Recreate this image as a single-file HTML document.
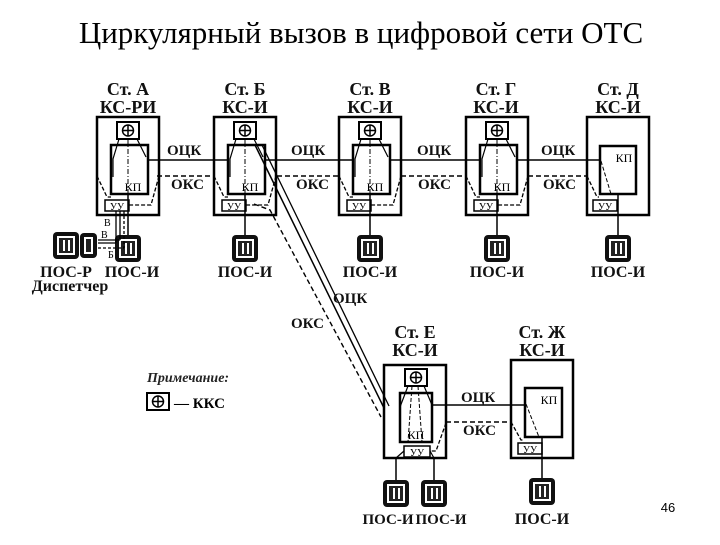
<!DOCTYPE html>
<html><head><meta charset="utf-8"><style>
body{margin:0;background:#fff;width:720px;height:540px;overflow:hidden}
svg text{font-family:"Liberation Serif",serif}
</style></head><body>
<svg width="720" height="540" viewBox="0 0 720 540" xmlns="http://www.w3.org/2000/svg">
<defs>
<g id="phone">
<rect x="-13" y="0" width="26" height="27" rx="4" fill="#111"/>
<rect x="-9" y="4" width="18" height="19" fill="#fff"/>
<rect x="-7" y="6" width="14" height="15" fill="#222"/>
<rect x="-3" y="8" width="2" height="11" fill="#fff"/>
<rect x="2" y="8" width="2" height="11" fill="#fff"/>
</g>
<g id="kks">
<rect x="0" y="0" width="22" height="17" fill="#fff" stroke="#000" stroke-width="2"/>
<circle cx="11" cy="8.5" r="5.5" fill="none" stroke="#000" stroke-width="1.5"/>
<line x1="5.5" y1="8.5" x2="16.5" y2="8.5" stroke="#000" stroke-width="1.5"/>
<line x1="11" y1="3" x2="11" y2="14" stroke="#000" stroke-width="1.5"/>
</g>
<g id="st">
<rect x="0" y="0" width="62" height="98" fill="none" stroke="#000" stroke-width="2.5"/>
<rect x="14" y="28" width="37" height="49" fill="none" stroke="#000" stroke-width="2.5"/>
<use href="#kks" x="20" y="5"/>
<polyline points="22,22 16,42 16,60" fill="none" stroke="#000" stroke-width="1.2"/>
<polyline points="40,22 49,40" fill="none" stroke="#000" stroke-width="1.2"/>
<line x1="31" y1="22" x2="31" y2="77" stroke="#000" stroke-width="1" stroke-dasharray="5,2,1,2"/>
<rect x="8" y="83" width="24" height="11" fill="#fff" stroke="#000" stroke-width="1.5"/>
<text x="20" y="93" font-size="10" text-anchor="middle" font-family="Liberation Sans">УУ</text>
<text x="36" y="74" font-size="12" text-anchor="middle" font-family="Liberation Sans">КП</text>
<polyline points="0,59 10,80 14,80" fill="none" stroke="#000" stroke-width="1.3" stroke-dasharray="4,2"/>
<polyline points="62,59 54,88 32,88" fill="none" stroke="#000" stroke-width="1.3" stroke-dasharray="4,2"/>
<line x1="31" y1="77" x2="31" y2="119" stroke="#000" stroke-width="1.5"/>
<use href="#phone" x="31" y="118"/>
</g>
</defs>

<text x="361" y="43" font-size="31" text-anchor="middle">Циркулярный вызов в цифровой сети ОТС</text>

<g font-size="18" font-weight="bold" text-anchor="middle" fill="#111">
<text x="128" y="95">Ст. А</text><text x="128" y="113">КС-РИ</text>
<text x="245" y="95">Ст. Б</text><text x="245" y="113">КС-И</text>
<text x="370" y="95">Ст. В</text><text x="370" y="113">КС-И</text>
<text x="496" y="95">Ст. Г</text><text x="496" y="113">КС-И</text>
<text x="618" y="95">Ст. Д</text><text x="618" y="113">КС-И</text>
<text x="415" y="338">Ст. Е</text><text x="415" y="356">КС-И</text>
<text x="542" y="338">Ст. Ж</text><text x="542" y="356">КС-И</text>
</g>

<g stroke="#000" stroke-width="1.5">
<line x1="147" y1="160" x2="228" y2="160"/>
<line x1="264" y1="160" x2="352" y2="160"/>
<line x1="389" y1="160" x2="480" y2="160"/>
<line x1="517" y1="160" x2="600" y2="160"/>
<line x1="431" y1="405" x2="525" y2="405"/>
</g>
<g stroke="#000" stroke-width="1.5" stroke-dasharray="5,3">
<line x1="157" y1="176" x2="213" y2="176"/>
<line x1="277" y1="176" x2="338" y2="176"/>
<line x1="401" y1="176" x2="466" y2="176"/>
<line x1="528" y1="176" x2="587" y2="176"/>
<line x1="446" y1="422" x2="511" y2="422"/>
</g>
<line x1="255" y1="145" x2="384" y2="408" stroke="#000" stroke-width="1.5"/>
<line x1="262" y1="145" x2="389" y2="406" stroke="#000" stroke-width="1.3"/>
<polyline points="254,204 270,210 381,417" fill="none" stroke="#000" stroke-width="1.4" stroke-dasharray="5,3"/>

<g font-size="15" fill="#111" font-weight="bold">
<text x="167" y="155">ОЦК</text><text x="171" y="189">ОКС</text>
<text x="291" y="155">ОЦК</text><text x="296" y="189">ОКС</text>
<text x="417" y="155">ОЦК</text><text x="418" y="189">ОКС</text>
<text x="541" y="155">ОЦК</text><text x="543" y="189">ОКС</text>
<text x="461" y="402">ОЦК</text><text x="463" y="435">ОКС</text>
<text x="333" y="303">ОЦК</text><text x="291" y="328">ОКС</text>
</g>

<use href="#st" x="97" y="117"/>
<use href="#st" x="214" y="117"/>
<use href="#st" x="339" y="117"/>
<use href="#st" x="466" y="117"/>

<g transform="translate(587,117)">
<rect x="0" y="0" width="62" height="98" fill="none" stroke="#000" stroke-width="2.5"/>
<rect x="13" y="29" width="36" height="48" fill="none" stroke="#000" stroke-width="2.5"/>
<text x="37" y="45" font-size="12" text-anchor="middle" font-family="Liberation Sans">КП</text>
<polyline points="0,59 10,80 12,80" fill="none" stroke="#000" stroke-width="1.3" stroke-dasharray="4,2"/>
<line x1="14" y1="44" x2="24" y2="77" stroke="#000" stroke-width="1" stroke-dasharray="4,2"/>
<rect x="6" y="83" width="24" height="11" fill="#fff" stroke="#000" stroke-width="1.5"/>
<text x="18" y="93" font-size="10" text-anchor="middle" font-family="Liberation Sans">УУ</text>
<line x1="31" y1="77" x2="31" y2="119" stroke="#000" stroke-width="1.5"/>
<use href="#phone" x="31" y="118"/>
</g>

<g transform="translate(384,365)">
<rect x="0" y="0" width="62" height="93" fill="none" stroke="#000" stroke-width="2.5"/>
<rect x="16" y="28" width="32" height="49" fill="none" stroke="#000" stroke-width="2.5"/>
<use href="#kks" x="21" y="4"/>
<polyline points="24,21 16,42 16,60" fill="none" stroke="#000" stroke-width="1.2"/>
<polyline points="40,21 48,40" fill="none" stroke="#000" stroke-width="1.2"/>
<line x1="28" y1="21" x2="24" y2="77" stroke="#000" stroke-width="1" stroke-dasharray="4,2"/>
<line x1="34" y1="21" x2="38" y2="77" stroke="#000" stroke-width="1" stroke-dasharray="4,2"/>
<rect x="20" y="81" width="26" height="11" fill="#fff" stroke="#000" stroke-width="1.5"/>
<text x="33" y="91" font-size="10" text-anchor="middle" font-family="Liberation Sans">УУ</text>
<text x="32" y="74" font-size="12" text-anchor="middle" font-family="Liberation Sans">КП</text>
<polyline points="12,93 20,86" fill="none" stroke="#000" stroke-width="1.2"/>
<polyline points="50,93 46,86" fill="none" stroke="#000" stroke-width="1.2"/>
<polyline points="62,58 52,86 46,86" fill="none" stroke="#000" stroke-width="1.3" stroke-dasharray="4,2"/>
<line x1="12" y1="93" x2="12" y2="116" stroke="#000" stroke-width="1.5"/>
<line x1="50" y1="93" x2="50" y2="116" stroke="#000" stroke-width="1.5"/>
<use href="#phone" x="12" y="115"/>
<use href="#phone" x="50" y="115"/>
</g>

<g transform="translate(511,360)">
<rect x="0" y="0" width="62" height="98" fill="none" stroke="#000" stroke-width="2.5"/>
<rect x="14" y="28" width="37" height="49" fill="none" stroke="#000" stroke-width="2.5"/>
<text x="38" y="44" font-size="12" text-anchor="middle" font-family="Liberation Sans">КП</text>
<polyline points="0,62 10,80 12,80" fill="none" stroke="#000" stroke-width="1.3" stroke-dasharray="4,2"/>
<line x1="15" y1="44" x2="28" y2="77" stroke="#000" stroke-width="1" stroke-dasharray="4,2"/>
<rect x="7" y="83" width="24" height="11" fill="#fff" stroke="#000" stroke-width="1.5"/>
<text x="19" y="93" font-size="10" text-anchor="middle" font-family="Liberation Sans">УУ</text>
<line x1="31" y1="77" x2="31" y2="119" stroke="#000" stroke-width="1.5"/>
<use href="#phone" x="31" y="118"/>
</g>

<g stroke="#000" stroke-width="1.3">
<line x1="120" y1="211" x2="120" y2="240"/>
<line x1="116" y1="211" x2="116" y2="243"/>
<line x1="124" y1="211" x2="124" y2="248" stroke-dasharray="3,2"/>
<line x1="98" y1="240" x2="120" y2="240"/>
<line x1="98" y1="243" x2="116" y2="243"/>
<line x1="98" y1="248" x2="124" y2="248" stroke-dasharray="3,2"/>
</g>
<g font-size="10">
<text x="104" y="226">В</text><text x="101" y="238">В</text><text x="108" y="258">Б</text>
</g>
<use href="#phone" x="66" y="232"/>
<rect x="80" y="233" width="17" height="25" rx="4" fill="#111"/>
<rect x="84" y="237" width="9" height="17" fill="#fff"/>
<rect x="86" y="239" width="5" height="13" fill="#222"/>

<g font-size="16" font-weight="bold" text-anchor="middle" fill="#111">
<text x="66" y="277">ПОС-Р</text>
<text x="70" y="291">Диспетчер</text>
<text x="132" y="277">ПОС-И</text>
<text x="245" y="277">ПОС-И</text>
<text x="370" y="277">ПОС-И</text>
<text x="497" y="277">ПОС-И</text>
<text x="618" y="277">ПОС-И</text>
<text x="542" y="524">ПОС-И</text>
</g>
<g font-size="15" font-weight="bold" text-anchor="middle" fill="#111">
<text x="388" y="524">ПОС-И</text>
<text x="441" y="524">ПОС-И</text>
</g>

<text x="147" y="382" font-size="14" font-style="italic" font-weight="bold" fill="#222">Примечание:</text>
<use href="#kks" x="147" y="393"/>
<text x="174" y="408" font-size="15" font-weight="bold">— ККС</text>

<text x="668" y="512" font-size="13" text-anchor="middle" style="font-family:'Liberation Sans',sans-serif">46</text>
</svg>
</body></html>
